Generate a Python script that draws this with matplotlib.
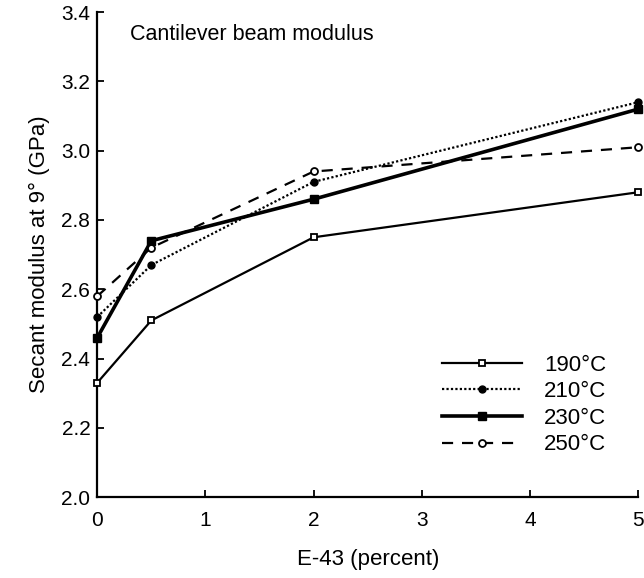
import matplotlib
matplotlib.use("Agg")
import matplotlib.pyplot as plt

plt.rcParams['font.family'] = ['Liberation Sans', 'DejaVu Sans']

e43 = [0, 0.5, 2, 5]
s190 = [2.33, 2.51, 2.75, 2.88]
s210 = [2.52, 2.67, 2.91, 3.14]
s230 = [2.46, 2.74, 2.86, 3.12]
s250 = [2.58, 2.72, 2.94, 3.01]
labels = ["190°C", "210°C", "230°C", "250°C"]
xticks = [0, 1, 2, 3, 4, 5]
yticks = [2.0, 2.2, 2.4, 2.6, 2.8, 3.0, 3.2, 3.4]

fig = plt.figure(figsize=(6.44, 5.78), dpi=100)
ax = fig.add_axes([0.151, 0.140, 0.840, 0.839])

ax.plot(e43, s190, color='black', lw=1.6, ls='-', marker='s', ms=5,
        mfc='white', mec='black', mew=1.3, label=labels[0], clip_on=False, zorder=3)
ax.plot(e43, s210, color='black', lw=1.6, ls=(0, (1, 1)), marker='o', ms=5,
        mfc='black', mec='black', label=labels[1], clip_on=False, zorder=3)
ax.plot(e43, s230, color='black', lw=2.6, ls='-', marker='s', ms=6,
        mfc='black', mec='black', label=labels[2], clip_on=False, zorder=3)
ax.plot(e43, s250, color='black', lw=1.6, ls=(0, (5, 4)), marker='o', ms=5,
        mfc='white', mec='black', mew=1.3, label=labels[3], clip_on=False, zorder=3)

ax.set_xlim(0, 5)
ax.set_ylim(2.0, 3.4)
ax.set_xticks(xticks)
ax.set_xticklabels([str(t) for t in xticks])
ax.set_yticks(yticks)
ax.set_yticklabels([f"{t:.1f}" for t in yticks])
ax.tick_params(direction='in', length=5, width=1.3, labelsize=15, pad=5)
ax.tick_params(axis='x', pad=10)
for s in ['top', 'right']:
    ax.spines[s].set_visible(False)
for s in ['left', 'bottom']:
    ax.spines[s].set_linewidth(1.6)

ax.set_xlabel("E-43 (percent)", fontsize=16, labelpad=14)
ax.set_ylabel("Secant modulus at 9° (GPa)", fontsize=16, labelpad=8)
ax.text(0.06, 0.975, "Cantilever beam modulus", transform=ax.transAxes,
        fontsize=15.5, va='top', ha='left')

leg = ax.legend(loc='upper left', bbox_to_anchor=(0.6, 0.335), frameon=False,
                fontsize=16, handlelength=3.6, handletextpad=1.0,
                labelspacing=0.25)

fig.savefig("out.png", dpi=100)
